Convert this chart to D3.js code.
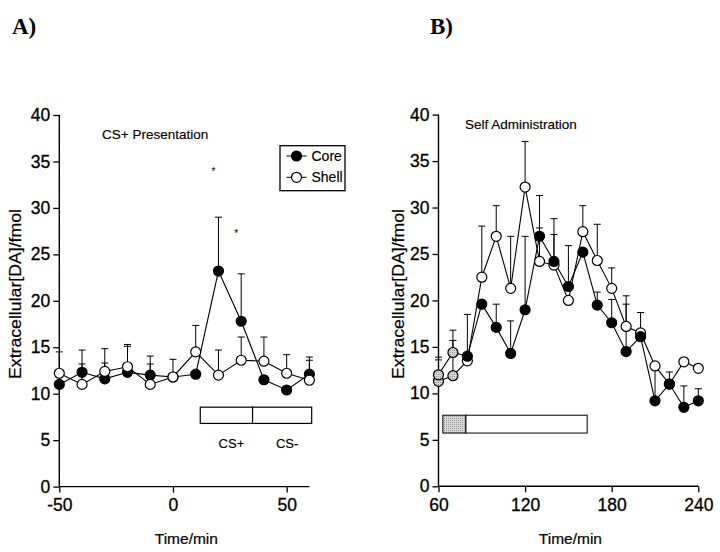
<!DOCTYPE html>
<html>
<head>
<meta charset="utf-8">
<script src="https://cdn.jsdelivr.net/npm/d3@7/dist/d3.min.js"></script>
<style>
  html, body { margin: 0; padding: 0; background: #fff; }
  svg { display: block; }
</style>
</head>
<body>
<svg id="chart" width="720" height="552"></svg>
<script>
// ---------------- DATA ----------------
// Panel A: CS+ presentation
const timesA = [-50, -40, -30, -20, -10, 0, 10, 20, 30, 40, 50, 60];
const coreA = [11.0, 12.3, 11.6, 12.3, 12.0, 11.8, 12.1, 23.2, 17.8, 11.5, 10.4, 12.1];
const coreAErr = [0, 2.4, 1.7, 2.8, 2.05, 0, 0, 5.8, 5.1, 0, 0, 1.85];
const shellA = [12.2, 11.0, 12.4, 12.9, 11.0, 11.8, 14.5, 12.0, 13.6, 13.5, 12.2, 11.45];
const shellAErr = [2.3, 2.2, 2.45, 2.4, 2.2, 1.9, 2.85, 2.7, 2.5, 2.6, 2.0, 2.15];
const xTicksA = [-50, 0, 50];
const starsA = [{t: 20, v: 34.1}, {t: 30, v: 27.4}];
const barsA = [{from: 12, to: 35, label: "CS+"}, {from: 35, to: 61, label: "CS-"}];
const barLevelA = [6.8, 8.55];

// Panel B: self administration
const timesB = [60, 70, 80, 90, 100, 110, 120, 130, 140, 150, 160, 170, 180, 190, 200, 210, 220, 230, 240];
const coreB = [12.0, 14.4, 14.0, 19.6, 17.1, 14.3, 19.0, 26.9, 24.2, 21.5, 25.2, 19.5, 17.6, 14.5, 16.1, 9.2, 11.0, 8.5, 9.2];
const coreBErr = [1.9, 2.4, 4.5, 0, 2.5, 3.5, 7.9, 4.4, 4.6, 4.4, 0, 1.4, 2.5, 5.1, 2.6, 3.7, 1.3, 2.3, 1.3];
const shellB = [11.3, 11.9, 13.5, 22.5, 26.9, 21.3, 32.2, 24.2, 23.8, 20.0, 27.4, 24.3, 21.3, 17.2, 16.5, 12.95, 11.0, 13.4, 12.7];
const shellBErr = [2.3, 3.8, 0, 5.5, 3.3, 5.6, 4.9, 3.6, 3.3, 0, 2.8, 3.9, 2.2, 3.3, 0, 0, 0, 0, 0];
const baselineB = [true, true, false, false, false, false, false, false, false, false, false, false, false, false, false, false, false, false, false];
const xTicksB = [60, 120, 180, 240];
const barsB = [{from: 63, to: 79, shaded: true}, {from: 79, to: 163, shaded: false}];
const barLevelB = [5.73, 7.65];

const yTicks = [0, 5, 10, 15, 20, 25, 30, 35, 40];

// ---------------- DRAWING ----------------
const SANS = "'Liberation Sans', Arial, sans-serif";
const SERIF = "'Liberation Serif', 'Times New Roman', serif";
const svg = d3.select("#chart");
const defs = svg.append("defs");
const pat = defs.append("pattern").attr("id", "stip").attr("width", 2).attr("height", 2)
  .attr("patternUnits", "userSpaceOnUse");
pat.append("rect").attr("width", 2).attr("height", 2).attr("fill", "#d6d6d6");
pat.append("rect").attr("width", 1).attr("height", 1).attr("fill", "#9a9a9a");

function txt(sel, size, weightStroke) {
  sel.style("font-family", SANS).style("font-size", size + "px").attr("fill", "#000");
  if (weightStroke) sel.attr("stroke", "#000").attr("stroke-width", weightStroke);
  return sel;
}

function panel(cfg) {
  const g = svg.append("g");
  const x = cfg.x, y = cfg.y;
  const fmt = d => String(d);

  const yAxis = d3.axisLeft(y).tickValues(yTicks).tickSize(6).tickPadding(3).tickFormat(fmt);
  const ya = g.append("g").attr("transform", `translate(${x.range()[0]},0)`).call(yAxis);
  const xAxis = d3.axisBottom(x).tickValues(cfg.xTicks).tickSize(6).tickPadding(6).tickFormat(fmt);
  const xa = g.append("g").attr("transform", `translate(0,${y(0)})`).call(xAxis);
  [ya, xa].forEach(a => {
    a.attr("font-family", null).attr("font-size", null);
    a.select(".domain").attr("stroke", "#000").attr("stroke-width", 1.4);
    a.selectAll(".tick line").attr("stroke", "#000").attr("stroke-width", 1.3);
    txt(a.selectAll(".tick text"), 17.5, 0.3);
  });
  ya.select(".domain").attr("d", `M0,${y(0)}V${y(40)}`);
  xa.select(".domain").attr("d", `M${x.range()[0]},0H${x.range()[1]}`);

  txt(g.append("text"), 16, 0.2)
    .attr("transform", `translate(${cfg.yLabelX},294) rotate(-90)`)
    .attr("text-anchor", "middle")
    .attr("textLength", 170).attr("lengthAdjust", "spacingAndGlyphs")
    .text("Extracellular[DA]/fmol");
  txt(g.append("text"), 15.5, 0.2)
    .attr("x", (x.range()[0] + x.range()[1]) / 2 + 2).attr("y", 544)
    .attr("text-anchor", "middle")
    .text("Time/min");

  txt(g.append("text"), 13.5, 0.15).attr("x", cfg.titleX).attr("y", cfg.titleY).text(cfg.title);

  function errBars(times, vals, errs) {
    const eg = g.append("g").attr("stroke", "#000").attr("stroke-width", 1);
    times.forEach((t, i) => {
      if (!errs[i]) return;
      const cx = x(t), top = y(vals[i] + errs[i]);
      eg.append("line").attr("x1", cx).attr("x2", cx).attr("y1", y(vals[i])).attr("y2", top);
      eg.append("line").attr("x1", cx - 3.5).attr("x2", cx + 3.5).attr("y1", top).attr("y2", top);
    });
  }
  function series(times, vals) {
    const line = d3.line().x(d => x(d[0])).y(d => y(d[1]));
    g.append("path").datum(times.map((t, i) => [t, vals[i]]))
      .attr("d", line).attr("fill", "none").attr("stroke", "#000").attr("stroke-width", 1.1);
  }
  function dots(times, vals, fillFn) {
    g.append("g").selectAll("circle").data(times.map((t, i) => [t, vals[i], i])).join("circle")
      .attr("cx", d => x(d[0])).attr("cy", d => y(d[1])).attr("r", 5)
      .attr("fill", d => fillFn(d[2])).attr("stroke", "#000").attr("stroke-width", 1.2);
  }
  cfg.series.forEach(s => errBars(cfg.times, s.vals, s.errs));
  cfg.series.forEach(s => series(cfg.times, s.vals));
  cfg.series.forEach(s => dots(cfg.times, s.vals, s.fill));
  return g;
}

// Panel A
const xA = d3.scaleLinear().domain([-50, 60]).range([59.3, 309.4]);
const yA = d3.scaleLinear().domain([0, 40]).range([486.6, 115]);
const gA = panel({
  x: xA, y: yA, xTicks: xTicksA, times: timesA, yLabelX: 20.5,
  title: "CS+ Presentation", titleX: 102, titleY: 139,
  series: [
    {vals: coreA, errs: coreAErr, fill: () => "#000"},
    {vals: shellA, errs: shellAErr, fill: () => "#fff"}
  ]
});
barsA.forEach(b => {
  gA.append("rect").attr("x", xA(b.from)).attr("y", yA(barLevelA[1]))
    .attr("width", xA(b.to) - xA(b.from)).attr("height", yA(barLevelA[0]) - yA(barLevelA[1]))
    .attr("fill", "#fff").attr("stroke", "#000").attr("stroke-width", 1.2);
  txt(gA.append("text"), 13, 0.15).attr("x", (xA(b.from) + xA(b.to)) / 2 + 5).attr("y", 447.5)
    .attr("text-anchor", "middle").text(b.label);
});
starsA.forEach(s => {
  txt(gA.append("text"), 10).attr("x", xA(s.t) - 5).attr("y", yA(s.v) + 5)
    .attr("text-anchor", "middle").text("*");
});
const lg = gA.append("g");
lg.append("rect").attr("x", 280).attr("y", 145.7).attr("width", 65).attr("height", 45)
  .attr("fill", "#fff").attr("stroke", "#000").attr("stroke-width", 1.3);
[["Core", "#000", 156], ["Shell", "#fff", 177.3]].forEach(([lab, f, yy]) => {
  lg.append("line").attr("x1", 286.5).attr("x2", 306.5).attr("y1", yy).attr("y2", yy)
    .attr("stroke", "#000").attr("stroke-width", 1);
  lg.append("circle").attr("cx", 296.5).attr("cy", yy).attr("r", 5)
    .attr("fill", f).attr("stroke", "#000").attr("stroke-width", 1.2);
  txt(lg.append("text"), 14, 0.15).attr("x", 311.5).attr("y", yy + 5).text(lab);
});

// Panel B
const xB = d3.scaleLinear().domain([60, 240]).range([438.5, 698.3]);
const yB = d3.scaleLinear().domain([0, 40]).range([486.3, 114.6]);
const gB = panel({
  x: xB, y: yB, xTicks: xTicksB, times: timesB, yLabelX: 404,
  title: "Self Administration", titleX: 465, titleY: 128.5,
  series: [
    {vals: shellB, errs: shellBErr, fill: i => baselineB[i] ? "url(#stip)" : "#fff"},
    {vals: coreB, errs: coreBErr, fill: i => baselineB[i] ? "url(#stip)" : "#000"}
  ]
});
barsB.forEach(b => {
  gB.append("rect").attr("x", xB(b.from)).attr("y", yB(barLevelB[1]))
    .attr("width", xB(b.to) - xB(b.from)).attr("height", yB(barLevelB[0]) - yB(barLevelB[1]))
    .attr("fill", b.shaded ? "url(#stip)" : "#fff").attr("stroke", "#000").attr("stroke-width", 1);
});

// panel letters
[["A)", 12], ["B)", 430]].forEach(([lab, xx]) => {
  svg.append("text").attr("x", xx).attr("y", 34)
    .style("font-family", SERIF).style("font-weight", "bold").style("font-size", "23px")
    .attr("fill", "#000").text(lab);
});
</script>
</body>
</html>
